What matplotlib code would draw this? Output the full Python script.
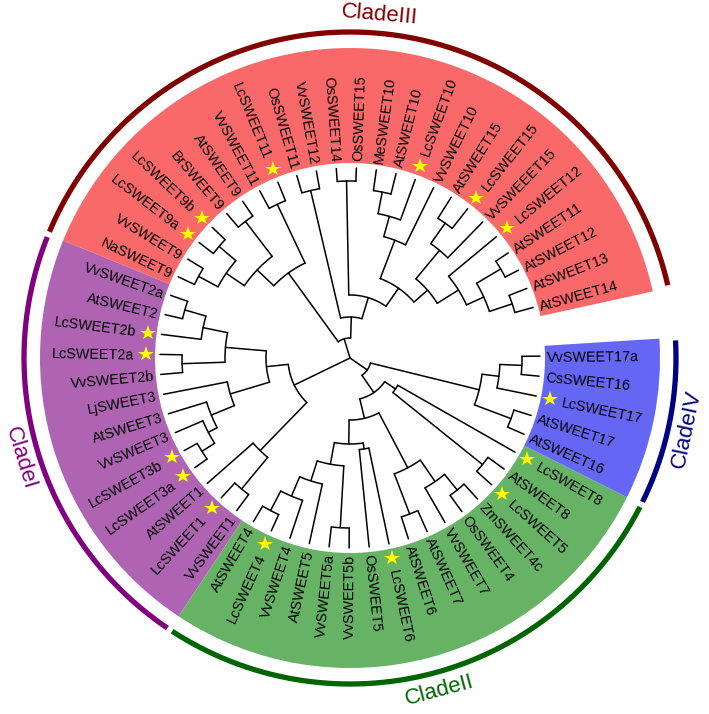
import numpy as np
import matplotlib
matplotlib.use("Agg")
import matplotlib.pyplot as plt
from matplotlib.patches import Wedge

# ---------------- data ----------------
leaves = [
    "AtSWEET14", "AtSWEET13", "AtSWEET12", "AtSWEET11", "LcSWEET12", "VvSWEEET15",
    "LcSWEET15", "AtSWEET15", "VvSWEET10", "LcSWEET10", "AtSWEET10", "MeSWEET10",
    "OsSWEET15", "OsSWEET14", "VvSWEET12", "OsSWEET11", "LcSWEET11", "VvSWEET11",
    "AtSWEET9", "BrSWEET9", "LcSWEET9b", "LcSWEET9a", "VvSWEET9", "NaSWEET9",
    "VvSWEET2a", "AtSWEET2", "LcSWEET2b", "LcSWEET2a", "VvSWEET2b", "LjSWEET3",
    "AtSWEET3", "VvSWEET3", "LcSWEET3b", "LcSWEET3a", "AtSWEET1", "LcSWEET1", "VvSWEET1",
    "AtSWEET4", "LcSWEET4", "VvSWEET4", "AtSWEET5", "VvSWEET5a", "VvSWEET5b",
    "OsSWEET5", "LcSWEET6", "AtSWEET6", "AtSWEET7", "VvSWEET7", "OsSWEET4",
    "ZmSWEET4c", "LcSWEET5", "AtSWEET8", "LcSWEET8",
    "AtSWEET16", "AtSWEET17", "LcSWEET17", "CsSWEET16", "VvSWEET17a",
]
clade_names = ["CladeIII", "CladeI", "CladeII", "CladeIV"]
clade_sizes = [24, 13, 16, 5]
band_colors = ["#FA6969", "#AE64B2", "#66B366", "#6666F5"]
arc_colors = ["#800000", "#800080", "#006400", "#000080"]
clade_label_angles = [85, 197, 285, 348]
starred = [name for name in leaves if name.startswith("Lc")]


def N(r, *kids):
    return {"r": r, "kids": list(kids)}


# node radii (distance from root)
clade3 = N(20,
    N(41,
        N(63,
            N(85,
                N(103,
                    N(128, N(147, N(171, "AtSWEET14", "AtSWEET13"),
                                  N(175, "AtSWEET12", "AtSWEET11")), "LcSWEET12"),
                    N(140, "VvSWEEET15", N(165, "LcSWEET15", "AtSWEET15"))),
                N(126, "VvSWEET10", N(147, "LcSWEET10", N(169, "AtSWEET10", "MeSWEET10")))),
            N(177, "OsSWEET15", "OsSWEET14")),
        N(172, "VvSWEET12", "OsSWEET11")),
    N(105,
        N(170, "LcSWEET11", "VvSWEET11"),
        N(128, N(172, "AtSWEET9", "BrSWEET9"),
               N(150, N(172, "LcSWEET9b", "LcSWEET9a"), N(172, "VvSWEET9", "NaSWEET9")))))

clade1 = N(62,
    N(84,
        N(125, N(150, N(172, "VvSWEET2a", "AtSWEET2"), "LcSWEET2b"),
               N(168, "LcSWEET2a", "VvSWEET2b")),
        N(125, "LjSWEET3", N(150, "AtSWEET3", N(160, "VvSWEET3", N(175, "LcSWEET3b", "LcSWEET3a"))))),
    N(129, "AtSWEET1", N(170, "LcSWEET1", "VvSWEET1")))

clade24 = N(21,
    N(133, N(150, N(172, "VvSWEET17a", "CsSWEET16"), "LcSWEET17"),
           N(172, "AtSWEET17", "AtSWEET16")),
    N(42,
        N(55, N(170, "LcSWEET5", "AtSWEET8"), "LcSWEET8"),
        N(62,
            N(86,
                N(108, N(129, N(150, N(172, "AtSWEET4", "LcSWEET4"), "VvSWEET4"), "AtSWEET5"),
                       N(170, "VvSWEET5a", "VvSWEET5b")),
                N(92, "OsSWEET5", "LcSWEET6")),
            N(124, N(167, "AtSWEET6", "AtSWEET7"),
                   N(150, "VvSWEET7", N(170, "OsSWEET4", "ZmSWEET4c"))))))

tree = N(0, clade3, clade1, clade24)

# ---------------- layout ----------------
W, H = 709, 714
CX, CY = 350, 356
START, STEP = 12.4, 6.055
R_TIP = 190
R_BAND_IN, R_BAND_OUT = 195, 310
R_CLADE_ARC = 326
R_CLADE_TXT = 344

leaf_angle = {name: START + STEP * (i + 0.5) for i, name in enumerate(leaves)}

fig = plt.figure(figsize=(W / 100, H / 100), dpi=100)
ax = fig.add_axes([0, 0, 1, 1])
ax.set_xlim(0, W)
ax.set_ylim(0, H)
ax.set_aspect("equal")
ax.axis("off")

FONT = ["Liberation Sans", "DejaVu Sans"]


def pol(r, a):
    t = np.deg2rad(a)
    return CX + r * np.cos(t), CY + r * np.sin(t)


# colored bands, clade arcs and clade names
i0 = 0
for k, n in enumerate(clade_sizes):
    a1 = START + STEP * i0
    a2 = START + STEP * (i0 + n)
    ax.add_patch(Wedge((CX, CY), R_BAND_OUT, a1, a2, width=R_BAND_OUT - R_BAND_IN,
                       facecolor=band_colors[k], edgecolor="none", zorder=1))
    t = np.linspace(a1 + 0.5, a2 - 0.5, 200)
    x, y = pol(R_CLADE_ARC, t)
    ax.plot(x, y, color=arc_colors[k], lw=3.8, solid_capstyle="butt", zorder=2)
    la = clade_label_angles[k]
    lx, ly = pol(R_CLADE_TXT, la)
    if 180 < la < 250:
        rot = la + 90 - 360
    elif 250 <= la < 330:
        rot = la - 270
    else:
        rot = la - 90 if la < 180 else la - 270
    ax.text(lx, ly, clade_names[k], color=arc_colors[k], fontsize=16, family=FONT,
            rotation=rot, ha="center", va="center", rotation_mode="anchor", zorder=3)
    i0 += n

# tree
LW = 1.1


def draw(node):
    if isinstance(node, str):
        return leaf_angle[node], R_TIP
    info = [draw(k) for k in node["kids"]]
    angs = [a for a, _ in info]
    lo, hi = min(angs), max(angs)
    r = node["r"]
    for a, rc in info:
        x, y = pol(np.array([r, rc]), a)
        ax.plot(x, y, color="black", lw=LW, solid_capstyle="round", zorder=4)
    if r > 0:
        t = np.linspace(lo, hi, 60)
        x, y = pol(r, t)
        ax.plot(x, y, color="black", lw=LW, solid_capstyle="round", zorder=4)
    return (lo + hi) / 2, r


draw(tree)

# labels and stars
for name in leaves:
    a = leaf_angle[name] % 360
    r = 216 if name in starred else 197
    x, y = pol(r, a)
    if 90 < a < 270:
        rot, ha = a - 180, "right"
    else:
        rot, ha = (a - 360 if a > 270 else a), "left"
    ax.text(x, y, name, fontsize=10.4, family=FONT, rotation=rot, ha=ha,
            va="center_baseline", rotation_mode="anchor", color="black", zorder=5)
    if name in starred:
        sx, sy = pol(204, a)
        ax.plot([sx], [sy], marker="*", color="#FFFF00", markersize=11.5,
                markeredgewidth=0, zorder=6)

fig.savefig("out.png", dpi=100)
